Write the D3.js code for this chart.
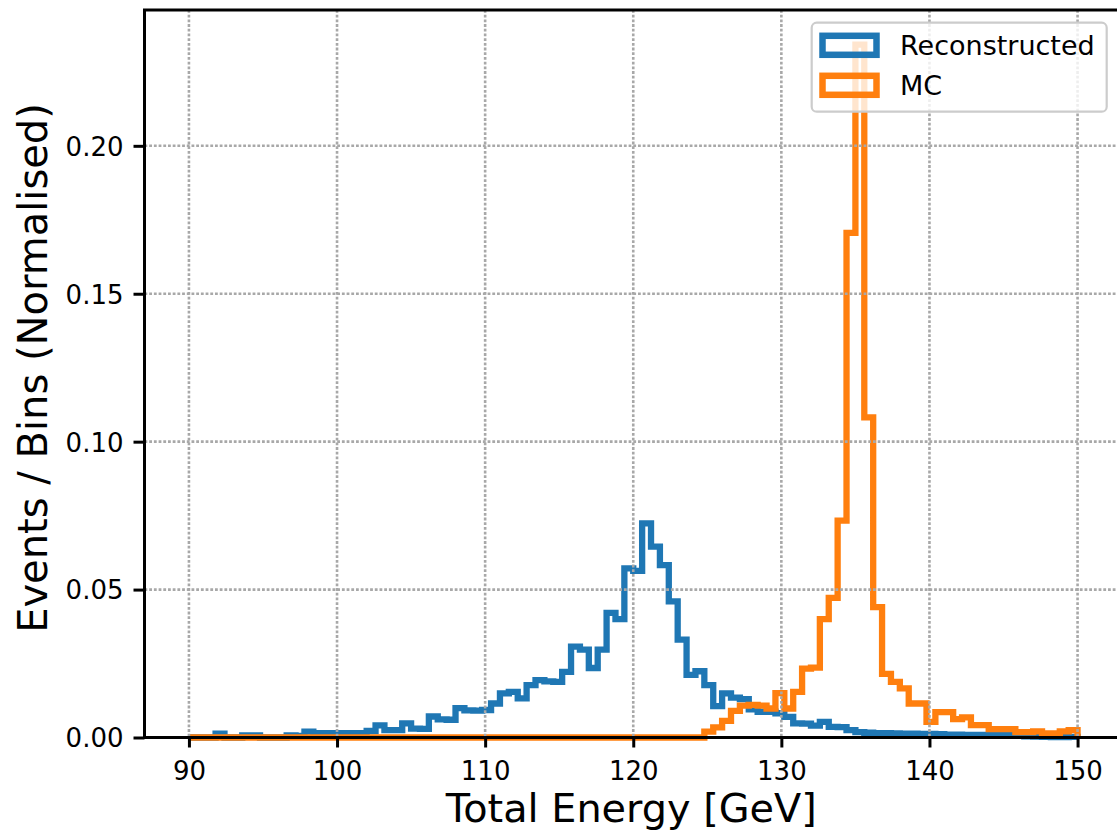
<!DOCTYPE html>
<html><head><meta charset="utf-8">
<script src="https://cdn.jsdelivr.net/npm/d3@7"></script>
<style>body{margin:0;background:#fff} text{font-family:"DejaVu Sans",sans-serif;fill:#000}</style>
</head><body><svg id="c" width="1117" height="832"></svg>
<script>
// ---- data ----
const binEdges = d3.range(101).map(i => +(90 + 0.6 * i).toFixed(1));
const reconstructed = [
  0,0,0,0.0013,0,0,0.0007,0.0007,0,0,
  0,0.0007,0.0005,0.0020,0.0015,0.0015,0.0015,0.0015,0.0015,0.0015,
  0.0022,0.0041,0.0025,0.0025,0.0048,0.0030,0.0029,0.0071,0.0061,0.0060,
  0.0099,0.0092,0.0091,0.0093,0.0115,0.0149,0.0154,0.0132,0.0177,0.0194,
  0.0190,0.0188,0.0222,0.0307,0.0297,0.0235,0.0297,0.0421,0.0400,0.0572,
  0.0563,0.0724,0.0645,0.0583,0.0460,0.0331,0.0212,0.0224,0.0177,0.0106,
  0.0149,0.0135,0.0130,0.0095,0.0087,0.0087,0.0082,0.0070,0.0048,0.0047,
  0.0040,0.0053,0.0036,0.0035,0.0025,0.0018,0.0016,0.0015,0.0015,0.0014,
  0.0013,0.0013,0.0012,0.0012,0.0011,0.0010,0.0010,0.0009,0.0009,0.0009,
  0.0008,0.0008,0.0008,0.0007,0.0004,0.0003,0.0002,0.0001,0.0001,0.0002
];
const mc = [
  0,0,0,0,0,0,0,0,0,0,
  0,0,0,0,0,0,0,0,0,0,
  0,0,0,0,0,0,0,0,0,0,
  0,0,0,0,0,0,0,0,0,0,
  0,0,0,0,0,0,0,0,0,0,
  0,0,0,0,0,0,0,0,0.0020,0.0034,
  0.0056,0.0090,0.0108,0.0110,0.0108,0.0098,0.0150,0.0098,0.0154,0.0233,
  0.0236,0.0400,0.0472,0.0733,0.1706,0.2342,0.1082,0.0441,0.0215,0.0188,
  0.0166,0.0115,0.0115,0.0053,0.0086,0.0086,0.0062,0.0068,0.0042,0.0042,
  0.0028,0.0028,0.0028,0.0018,0.0018,0.0021,0.0014,0.0014,0.0021,0.0025
];
const seriesNames = ["Reconstructed", "MC"];
const seriesColors = ["#1f77b4", "#ff7f0e"];
const xTicks = [90, 100, 110, 120, 130, 140, 150];
const yTicks = [0, 0.05, 0.10, 0.15, 0.20];
const xLabel = "Total Energy [GeV]";
const yLabel = "Events / Bins (Normalised)";

// ---- layout ----
const svg = d3.select("#c");
const L = 144.5, R = 1122, T = 10, B = 737.5;
const x = d3.scaleLinear().domain([87, 153]).range([L, R]);
const yMax = d3.max(mc) * 1.05;
const y = d3.scaleLinear().domain([0, yMax]).range([B, T]);

svg.append("rect").attr("width", 1117).attr("height", 832).attr("fill", "#fff");

// histograms
const line = d3.line().x(d => x(d[0])).y(d => y(d[1])).curve(d3.curveStepAfter);
[reconstructed, mc].forEach((vals, k) => {
  const pts = [[binEdges[0], 0]];
  vals.forEach((v, i) => pts.push([binEdges[i], v]));
  pts.push([binEdges[binEdges.length - 1], 0]);
  svg.append("path").attr("d", line(pts)).attr("fill", "none")
    .attr("stroke", seriesColors[k]).attr("stroke-width", 6.3)
    .attr("stroke-linejoin", "miter").attr("stroke-linecap", "butt");
});

// grid
const grid = svg.append("g").attr("stroke", "#a8a8a8").attr("stroke-width", 2.6)
  .attr("stroke-dasharray", "2.8,1.9");
xTicks.forEach(t => grid.append("line").attr("x1", x(t)).attr("x2", x(t)).attr("y1", T).attr("y2", B));
yTicks.forEach(t => grid.append("line").attr("x1", L).attr("x2", R).attr("y1", y(t)).attr("y2", y(t)));

// axes
const xAxis = d3.axisBottom(x).tickValues(xTicks).tickFormat(d3.format("d")).tickSizeInner(10).tickSizeOuter(0).tickPadding(9);
const gx = svg.append("g").attr("transform", `translate(0,${B})`).call(xAxis);
const yAxis = d3.axisLeft(y).tickValues(yTicks).tickFormat(d3.format(".2f")).tickSizeInner(11).tickSizeOuter(0).tickPadding(10);
const gy = svg.append("g").attr("transform", `translate(${L},0)`).call(yAxis);
[gx, gy].forEach(g => {
  g.select(".domain").remove();
  g.selectAll(".tick line").attr("stroke", "#000").attr("stroke-width", 3);
  g.selectAll(".tick text").attr("font-size", 26).attr("fill", "#000")
    .style("font-family", '"DejaVu Sans", sans-serif');
});
gx.selectAll(".tick text").attr("dy", null).attr("y", 42);
gy.selectAll(".tick text").attr("dy", "0.36em");

// spines
svg.append("rect").attr("x", L).attr("y", T).attr("width", R - L).attr("height", B - T)
  .attr("fill", "none").attr("stroke", "#000").attr("stroke-width", 3);

// labels
svg.append("text").attr("x", (L + R) / 2 - 2).attr("y", 822).attr("text-anchor", "middle")
  .attr("font-size", 39.8).text(xLabel);
svg.append("text").attr("transform", `translate(46.5,368) rotate(-90)`)
  .attr("text-anchor", "middle").attr("font-size", 40).text(yLabel);

// legend
const lg = svg.append("g");
lg.append("rect").attr("x", 811.7).attr("y", 22.7).attr("width", 295).attr("height", 89)
  .attr("rx", 5).attr("fill", "#fff").attr("fill-opacity", 0.8)
  .attr("stroke", "#cccccc").attr("stroke-width", 2.2);
seriesNames.forEach((name, k) => {
  const cy = 45.3 + k * 40;
  lg.append("rect").attr("x", 822.5).attr("y", cy - 9.5).attr("width", 54).attr("height", 19)
    .attr("fill", "none").attr("stroke", seriesColors[k]).attr("stroke-width", 6.5);
  lg.append("text").attr("x", 900).attr("y", cy + 9.8).attr("font-size", 27).text(name);
});
</script></body></html>
